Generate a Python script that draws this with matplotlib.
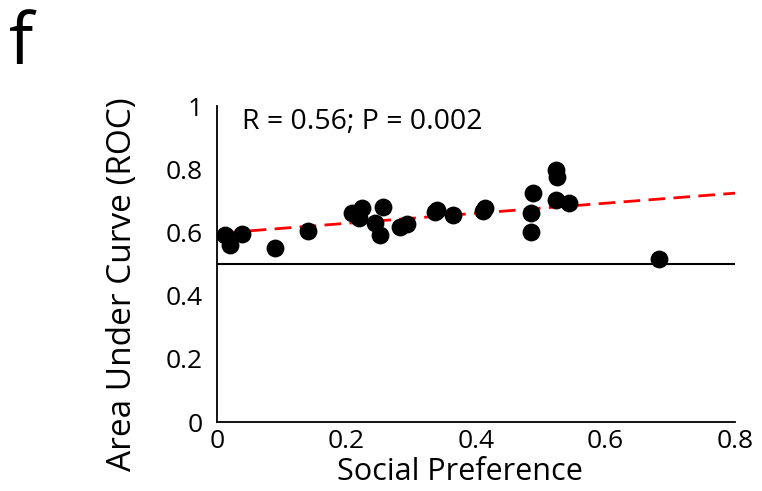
import numpy as np
import matplotlib
matplotlib.use('Agg')
import matplotlib.pyplot as plt

plt.rcParams['font.family'] = ['Open Sans', 'DejaVu Sans']

# social preference vs ROC area
social_pref = [0.012, 0.020, 0.039, 0.090, 0.140, 0.208, 0.220, 0.224, 0.244, 0.252,
               0.256, 0.282, 0.294, 0.337, 0.340, 0.365, 0.411, 0.414, 0.485, 0.485,
               0.488, 0.524, 0.525, 0.524, 0.543, 0.683]
roc_area = [0.592, 0.560, 0.595, 0.552, 0.604, 0.662, 0.645, 0.676, 0.631, 0.592,
            0.681, 0.616, 0.628, 0.664, 0.671, 0.655, 0.668, 0.678, 0.660, 0.600,
            0.726, 0.797, 0.774, 0.703, 0.694, 0.516]

fit_slope = 0.159
fit_intercept = 0.597
chance = 0.5
stats_text = 'R = 0.56; P = 0.002'

fig = plt.figure(figsize=(7.62, 4.91), dpi=100)
ax = fig.add_axes([0.2848, 0.1405, 0.6798, 0.6436])

ax.plot([0, 0.8], [chance, chance], color='black', lw=1.5, zorder=1)
xf = np.array([min(social_pref), 0.8])
ax.plot(xf, fit_intercept + fit_slope * xf, color='#ff0000', lw=2,
        dashes=(6, 3), zorder=2)
ax.scatter(social_pref, roc_area, s=165, color='black', zorder=3, linewidths=0)

ax.set_xlim(0, 0.8)
ax.set_ylim(0, 1)
ax.set_xticks([0, 0.2, 0.4, 0.6, 0.8])
ax.set_xticklabels(['0', '0.2', '0.4', '0.6', '0.8'])
ax.set_yticks([0, 0.2, 0.4, 0.6, 0.8, 1])
ax.set_yticklabels(['0', '0.2', '0.4', '0.6', '0.8', '1'])
ax.tick_params(length=0, labelsize=19)
ax.tick_params(axis='y', pad=10)
ax.tick_params(axis='x', pad=5)
for s in ['top', 'right']:
    ax.spines[s].set_visible(False)
for s in ['left', 'bottom']:
    ax.spines[s].set_linewidth(1.3)

ax.set_xlabel('Social Preference', fontsize=22, va='center')
ax.xaxis.set_label_coords(0.469, -0.158)
ax.set_ylabel('Area Under Curve (ROC)', fontsize=24, va='center')
ax.yaxis.set_label_coords(-0.183, 0.437)
ax.text(0.038, 0.927, stats_text, fontsize=20.5, va='baseline')

fig.text(0.012, 0.87, 'f', fontsize=52)

fig.savefig('out.png', dpi=100)
